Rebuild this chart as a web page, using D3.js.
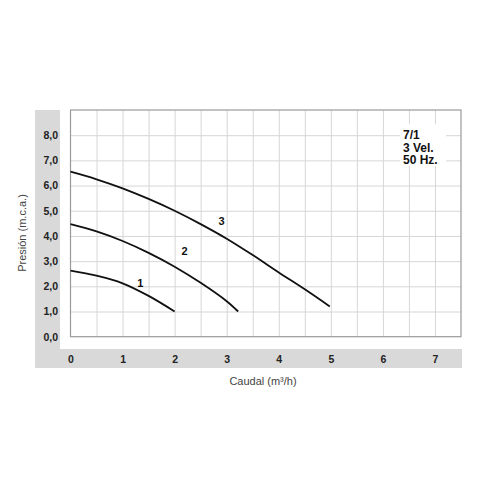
<!DOCTYPE html>
<meta charset="utf-8">
<style>
body { margin: 0; background: #fff; }
text { font-family: "Liberation Sans", Arial, sans-serif; }
.grid line { stroke: #d6d6d6; stroke-width: 1; }
.grid path { display: none; }
.tick-lab text { font-size: 10.5px; font-weight: bold; fill: #222; }
.tick-lab path, .tick-lab line { display: none; }
.curve { fill: none; stroke: #111; stroke-width: 1.8; }
.lab { font-size: 11px; font-weight: bold; fill: #111; }
.title { font-size: 11px; fill: #444; }
.note { font-size: 12px; font-weight: bold; fill: #111; }
</style>
<body>
<script src="https://d3js.org/d3.v7.min.js"></script>
<script>

// data
var xTicks = [0, 1, 2, 3, 4, 5, 6, 7];
var yTicks = [0, 1, 2, 3, 4, 5, 6, 7, 8];
var curve1 = [[0, 2.62], [0.5, 2.42], [1, 2.12], [1.5, 1.62], [2, 1.0]];
var curve2 = [[0, 4.47], [0.5, 4.18], [1, 3.8], [1.5, 3.33], [2, 2.78], [2.5, 2.14], [3, 1.41], [3.22, 1.0]];
var curve3 = [[0, 6.55], [0.5, 6.25], [1, 5.89], [1.5, 5.47], [2, 5.0], [2.5, 4.47], [3, 3.89], [3.5, 3.24], [4, 2.55], [4.5, 1.88], [4.98, 1.2]];
var curveLabels = [{n: "1", x: 1.34, y: 2.12}, {n: "2", x: 2.19, y: 3.41}, {n: "3", x: 2.9, y: 4.59}];
var note = ["7/1", "3 Vel.", "50 Hz."];

var svg = d3.select("body").append("svg")
    .attr("width", 500)
    .attr("height", 500);

var x = d3.scaleLinear().domain([0, 7.5]).range([70.5, 461]);
var y = d3.scaleLinear().domain([0, 9]).range([336.7, 110]);

// grey frame with white plot panel
svg.append("rect").attr("x", 35).attr("y", 110).attr("width", 427).attr("height", 258).attr("fill", "#d9d9d9");
svg.append("rect").attr("x", 60).attr("y", 110).attr("width", 402).attr("height", 239).attr("fill", "#fff");

// grid
svg.append("g").attr("class", "grid")
    .attr("transform", "translate(0," + y(0) + ")")
    .call(d3.axisBottom(x).tickValues(d3.range(0.5, 7.5, 0.5)).tickSize(-(y(0) - y(9))).tickFormat(""));
svg.append("g").attr("class", "grid")
    .attr("transform", "translate(" + x(0) + ",0)")
    .call(d3.axisLeft(y).tickValues(d3.range(1, 9)).tickSize(-(x(7.5) - x(0))).tickFormat(""));

// plot border
svg.append("rect")
    .attr("x", x(0)).attr("y", y(9))
    .attr("width", x(7.5) - x(0)).attr("height", y(0) - y(9))
    .attr("fill", "none").attr("stroke", "#9a9a9a").attr("stroke-width", 1.2);

// tick labels
svg.append("g").attr("class", "tick-lab")
    .attr("transform", "translate(0,356)")
    .call(d3.axisBottom(x).tickValues(xTicks).tickSize(0).tickPadding(0).tickFormat(d3.format("d")));
svg.append("g").attr("class", "tick-lab")
    .attr("transform", "translate(58,0)")
    .call(d3.axisLeft(y).tickValues(yTicks).tickSize(0).tickPadding(0)
      .tickFormat(function(d) { return d.toFixed(1).replace(".", ","); }));

// curves
var line = d3.line().x(function(d) { return x(d[0]); }).y(function(d) { return y(d[1]); })
    .curve(d3.curveCatmullRom);
[curve1, curve2, curve3].forEach(function(c) {
  svg.append("path").attr("class", "curve").attr("d", line(c));
});

svg.selectAll(".lab").data(curveLabels).enter().append("text")
    .attr("class", "lab")
    .attr("x", function(d) { return x(d.x); })
    .attr("y", function(d) { return y(d.y); })
    .attr("dy", "0.35em")
    .attr("text-anchor", "middle")
    .text(function(d) { return d.n; });

// note box
svg.append("rect").attr("x", 400).attr("y", 124).attr("width", 46).attr("height", 42).attr("fill", "#fff");
svg.selectAll(".note").data(note).enter().append("text")
    .attr("class", "note")
    .attr("x", 403)
    .attr("y", function(d, i) { return 139 + i * 12.5; })
    .text(function(d) { return d; });

// axis titles
svg.append("text").attr("class", "title")
    .attr("x", 263).attr("y", 385)
    .attr("text-anchor", "middle")
    .text("Caudal (m³/h)");
svg.append("text").attr("class", "title")
    .attr("transform", "translate(26,233) rotate(-90)")
    .attr("text-anchor", "middle")
    .text("Presión (m.c.a.)");

</script>
</body>
